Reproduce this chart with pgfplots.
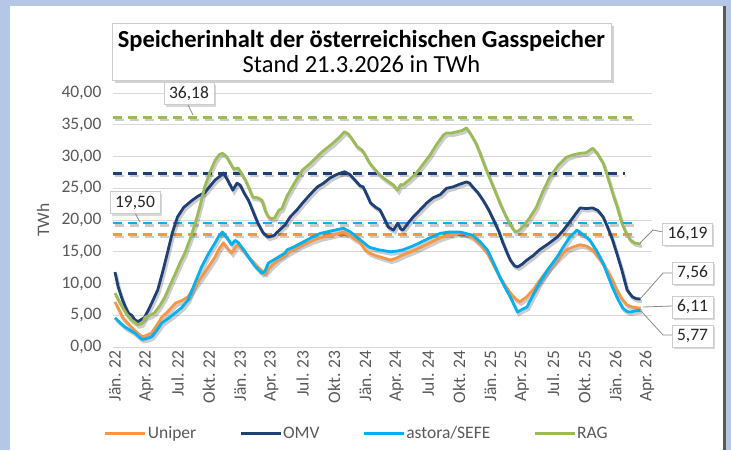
\documentclass[border=0pt]{standalone}
\usepackage{pgfplots}
\pgfplotsset{compat=1.18}
\usepackage{pgfplotstable}
\usepackage{fontspec}
\setmainfont{Carlito}
\usetikzlibrary{shadows}
\definecolor{cUniper}{HTML}{F79646}
\definecolor{cOMV}{HTML}{1F3F77}
\definecolor{cAstora}{HTML}{00B0F0}
\definecolor{cRAG}{HTML}{9BBB59}
\definecolor{frame}{HTML}{B4C7E7}
\definecolor{txt}{HTML}{595959}

\pgfplotstableread{
m v
0 11.8
0.3 9.5
0.7 7.5
1.0 6.3
1.3 5.3
1.6 5.0
1.9 4.3
2.2 4.0
2.5 4.3
2.8 4.6
3.2 5.8
3.6 7.2
4.1 9.0
4.6 12.0
5.1 15.3
5.5 18.0
6.0 20.5
6.6 22.0
7.4 23.1
8.0 23.8
8.6 24.3
9.1 25.3
9.6 26.3
10.0 26.8
10.4 27.4
10.8 26.3
11.3 24.7
11.7 25.8
12.0 25.5
12.4 24.2
12.8 23.1
13.2 21.5
13.7 19.5
14.2 18.0
14.7 17.3
15.3 17.6
15.5 18.0
16.3 19.2
16.8 20.5
17.4 21.5
18.0 22.7
18.7 24.0
19.4 25.2
20.0 25.8
20.6 26.6
21.3 27.2
22.0 27.6
22.5 27.2
23.0 26.3
23.5 25.4
23.8 25.2
24.2 23.8
24.5 22.7
25.0 22.0
25.4 21.6
25.8 20.3
26.2 18.9
26.5 18.6
26.7 18.4
27.1 19.5
27.4 18.6
27.6 18.4
28.1 19.5
28.6 20.5
29.2 21.5
29.9 22.7
30.5 23.5
31.2 24.0
31.8 25.0
32.4 25.2
33.0 25.6
33.7 26.0
34.0 25.8
34.3 25.2
34.8 24.3
35.3 23.1
35.8 21.7
36.3 20.0
36.8 18.2
37.2 16.4
37.6 14.8
37.9 13.7
38.3 12.8
38.6 12.6
39.0 13.0
39.5 13.7
40.1 14.4
40.7 15.3
41.5 16.2
42.4 17.3
43.0 18.4
43.6 19.7
44.1 20.8
44.6 21.9
45.2 21.8
45.8 21.9
46.3 21.5
46.8 20.5
47.2 19.0
47.7 16.9
48.2 14.3
48.6 12.1
49.1 9.0
49.6 7.9
50.0 7.6
50.4 7.56
}\omv

\pgfplotstableread{
m v
0 8.5
0.3 7.5
0.7 6.3
1.2 5.0
1.6 4.25
2.2 3.5
2.6 3.7
2.9 4.7
3.4 5.0
3.8 5.4
4.3 6.5
4.8 7.9
5.3 9.8
5.8 11.6
6.3 13.5
6.7 14.8
7.2 17.0
7.7 19.5
8.2 22.5
8.6 25.2
9.1 27.5
9.6 29.4
10.0 30.3
10.3 30.5
10.7 30.0
11.0 29.1
11.4 28.0
11.8 28.2
12.1 27.4
12.5 26.3
12.9 24.8
13.2 23.6
13.7 23.5
14.1 23.1
14.4 21.5
14.7 20.5
15.0 20.2
15.3 20.3
15.7 21.5
16.0 21.8
16.5 23.8
17.2 25.8
18.0 27.9
18.8 29.0
19.7 30.5
20.3 31.3
20.9 32.1
21.5 33.0
22.0 33.9
22.4 33.5
22.8 32.6
23.2 31.6
23.7 31.0
24.0 30.2
24.4 29.0
24.9 28.0
25.4 27.1
26.0 26.3
26.7 25.5
27.1 24.7
27.4 25.6
27.6 25.5
28.2 26.3
28.9 27.4
29.5 28.7
30.2 30.2
30.8 31.8
31.5 33.4
31.8 33.7
32.3 33.7
32.8 33.9
33.3 34.1
33.7 34.5
34.0 33.8
34.3 33.0
34.6 32.1
35.0 30.5
35.5 28.3
36.0 26.3
36.5 24.3
37.0 22.3
37.5 20.5
38.0 19.0
38.4 18.1
38.7 18.3
39.1 18.9
39.7 20.2
40.4 22.0
41.0 24.4
41.7 26.8
42.5 28.6
43.3 29.9
44.0 30.3
44.6 30.5
45.2 30.6
45.8 31.3
46.2 30.6
46.8 29.0
47.2 27.0
47.7 24.3
48.2 21.8
48.6 19.5
49.0 18.0
49.4 16.9
49.8 16.4
50.4 16.19
}\rag

\pgfplotstableread{
m v
0 7.1
0.4 5.8
0.7 4.7
1.2 3.8
1.6 3.1
2.1 2.3
2.6 1.6
3.0 1.8
3.5 2.2
4.0 3.4
4.5 4.7
5.2 5.8
5.8 6.9
6.4 7.3
7.0 7.9
7.6 9.4
8.3 11.0
9.0 12.7
9.6 14.2
10.0 15.5
10.4 16.4
10.8 15.5
11.2 14.8
11.5 15.6
11.8 16.1
12.3 15.2
12.8 14.2
13.2 13.5
13.7 12.6
14.1 12.0
14.4 11.6
14.8 12.4
15.1 12.9
15.7 13.8
16.3 14.5
17.0 15.2
18.0 16.1
19.0 16.8
19.7 17.2
20.8 17.6
21.9 18.1
22.5 17.6
23.0 17.0
23.5 16.5
23.9 15.5
24.4 14.8
25.0 14.4
25.6 14.1
26.4 13.7
27.0 14.0
27.6 14.5
28.4 15.0
29.2 15.6
30.2 16.4
31.2 17.2
32.0 17.6
32.8 17.9
33.5 17.9
34.3 17.2
35.0 16.2
35.7 14.8
36.3 12.9
36.9 11.0
37.4 9.7
37.9 8.5
38.4 7.6
38.8 7.1
39.4 7.8
40.1 9.0
40.9 10.9
41.7 12.6
42.5 14.0
43.3 15.3
44.0 15.8
44.6 16.1
45.2 15.9
45.8 15.3
46.5 13.8
47.2 12.1
47.7 10.5
48.1 9.0
48.6 7.6
49.1 6.6
49.6 6.3
50.0 6.2
50.4 6.11
}\uniper

\pgfplotstableread{
m v
0 4.6
0.5 3.8
1.0 3.1
1.5 2.6
1.9 2.2
2.3 1.6
2.6 1.2
3.0 1.3
3.5 1.6
4.0 2.6
4.5 3.8
5.2 4.6
5.8 5.4
6.4 6.2
7.0 7.4
7.6 9.8
8.3 12.6
9.0 14.8
9.6 16.4
10.0 17.6
10.3 18.1
10.7 17.3
11.2 16.1
11.5 16.8
11.8 16.5
12.3 15.4
12.8 14.2
13.4 12.8
14.1 11.6
14.4 12.0
14.7 13.2
15.3 13.8
16.3 14.8
16.5 15.3
17.2 15.8
18.0 16.5
18.8 17.2
19.7 17.9
20.8 18.3
21.9 18.7
22.5 18.2
23.2 17.3
23.8 16.5
24.4 15.7
25.3 15.3
26.4 15.0
27.0 15.1
27.6 15.3
28.4 15.8
29.2 16.4
30.2 17.2
31.2 17.9
32.0 18.1
33.1 18.1
34.3 17.6
35.0 16.6
35.7 15.3
36.3 13.2
36.9 11.0
37.4 9.4
37.9 7.9
38.3 6.5
38.6 5.5
39.0 5.9
39.5 6.3
40.1 8.2
40.7 10.1
41.5 12.2
42.4 14.2
43.0 15.8
43.6 17.3
44.3 18.4
44.9 17.7
45.5 16.9
46.2 15.1
46.8 13.2
47.2 11.5
47.7 9.4
48.2 7.6
48.7 6.1
49.1 5.6
49.4 5.5
49.9 5.7
50.4 5.77
}\astora

\newcommand{\fs}{\fontsize{17.5}{20}\selectfont}

\begin{document}
\begin{tikzpicture}
\path[use as bounding box] (0,0) rectangle (731pt,-450pt);
\fill[frame] (0,0) rectangle (731pt,-450pt);
\fill[white] (10pt,-6pt) rectangle (723pt,-450pt);
\fill[gray!70!black] (723pt,-6pt) rectangle (726pt,-450pt);
\begin{axis}[
  at={(113pt,-347pt)}, anchor=south west,
  scale only axis, width=539pt, height=254pt,
  xmin=-0.19, xmax=51.49, ymin=0, ymax=40,
  axis line style={draw=none},
  tick style={draw=none},
  ytick={0,5,...,40},
  ymajorgrids, grid style={draw=black!15, line width=1pt},
  xtick={0,3,...,51},
  xticklabels={Jän. 22, Apr. 22, Jul. 22, Okt. 22, Jän. 23, Apr. 23, Jul. 23, Okt. 23, Jän. 24, Apr. 24, Jul. 24, Okt. 24, Jän. 25, Apr. 25, Jul. 25, Okt. 25, Jän. 26, Apr. 26},
  xticklabel style={rotate=90, anchor=east, font=\fs, text=txt},
  /pgf/number format/assume math mode=true,
  yticklabel style={font=\fs, text=txt, xshift=-8pt, /pgf/number format/fixed, /pgf/number format/fixed zerofill, /pgf/number format/precision=2, /pgf/number format/use comma},
  ylabel={TWh},
  every axis y label/.style={at={(axis description cs:-0.13,0.5)}, rotate=90, anchor=center, font=\fs, text=txt},
  legend columns=4,
  legend style={at={(axis description cs:-0.017,-0.339)}, anchor=west, draw=none, fill=none, inner sep=0pt, font=\fs, text=txt, nodes={inner sep=1pt}, /tikz/every even column/.append style={column sep=42pt}},
  legend image code/.code={\draw[#1] (0pt,0pt) -- (40pt,0pt);},
  shd/.style={black, opacity=0.2, line width=3pt, xshift=1.5pt, yshift=-2.5pt, forget plot},
  dsh/.style={line width=2.5pt, dash pattern=on 9pt off 6pt},
]
% shadows of reference lines
\addplot[shd, dsh] coordinates {(-0.19,36.18) (50.1,36.18)};
\addplot[shd, dsh] coordinates {(-0.19,27.3) (48.9,27.3)};
\addplot[shd, dsh] coordinates {(-0.19,19.5) (49.8,19.5)};
\addplot[shd, dsh] coordinates {(-0.19,17.7) (49.7,17.7)};
\addplot[cRAG, dsh, forget plot] coordinates {(-0.19,36.18) (50.1,36.18)};
\addplot[cOMV, dsh, forget plot] coordinates {(-0.19,27.3) (48.9,27.3)};
\addplot[cAstora, dsh, forget plot] coordinates {(-0.19,19.5) (49.8,19.5)};
\addplot[cUniper, dsh, forget plot] coordinates {(-0.19,17.7) (49.7,17.7)};
% shadows of series
\addplot[shd] table[x=m,y=v] {\uniper};
\addplot[shd] table[x=m,y=v] {\omv};
\addplot[shd] table[x=m,y=v] {\astora};
\addplot[shd] table[x=m,y=v] {\rag};
% series
\addplot[cUniper, line width=2.8pt, line join=round] table[x=m,y=v] {\uniper};
\addlegendentry{Uniper}
\addplot[cOMV, line width=2.8pt, line join=round] table[x=m,y=v] {\omv};
\addlegendentry{OMV}
\addplot[cAstora, line width=2.8pt, line join=round] table[x=m,y=v] {\astora};
\addlegendentry{astora/SEFE}
\addplot[cRAG, line width=2.8pt, line join=round] table[x=m,y=v] {\rag};
\addlegendentry{RAG}
\end{axis}
% title
\node[draw=black!20, fill=white, drop shadow={shadow xshift=3pt, shadow yshift=-3pt, opacity=0.35}, minimum width=499pt, minimum height=57pt, inner sep=0pt] at (361.5pt,-51.5pt) {};
\node[anchor=base, inner sep=0pt, font=\fontsize{24.5}{26}\selectfont\bfseries] at (361.5pt,-47pt) {Speicherinhalt der österreichischen Gasspeicher};
\node[anchor=base, inner sep=0pt, font=\fontsize{24.5}{26}\selectfont] at (361.5pt,-72pt) {Stand 21.3.2026 in TWh};
% callouts
\tikzset{call/.style={draw=black!20, fill=white, drop shadow={shadow xshift=2pt, shadow yshift=-2pt, opacity=0.3}, font=\fs, text=black!85, inner xsep=5pt, minimum height=22pt}}
\draw[black!45, line width=0.8pt] (188pt,-105pt) -- (193pt,-115pt);
\draw[black!45, line width=0.8pt] (135pt,-213pt) -- (140pt,-222pt);
\draw[black!45, line width=0.8pt] (663pt,-232pt) -- (653pt,-230pt) -- (640pt,-243pt);
\draw[black!45, line width=0.8pt] (672pt,-273pt) -- (663pt,-273pt) -- (641pt,-298pt);
\draw[black!45, line width=0.8pt] (672pt,-306pt) -- (643pt,-307pt);
\draw[black!45, line width=0.8pt] (672pt,-335pt) -- (663pt,-335pt) -- (641pt,-311pt);
\node[call] at (189pt,-93.5pt) {36,18};
\node[call] at (135pt,-202.5pt) {19,50};
\node[call] at (687.5pt,-234pt) {16,19};
\node[call] at (692.5pt,-273pt) {7,56};
\node[call] at (692.5pt,-307pt) {6,11};
\node[call] at (692.5pt,-336pt) {5,77};
\end{tikzpicture}
\end{document}
